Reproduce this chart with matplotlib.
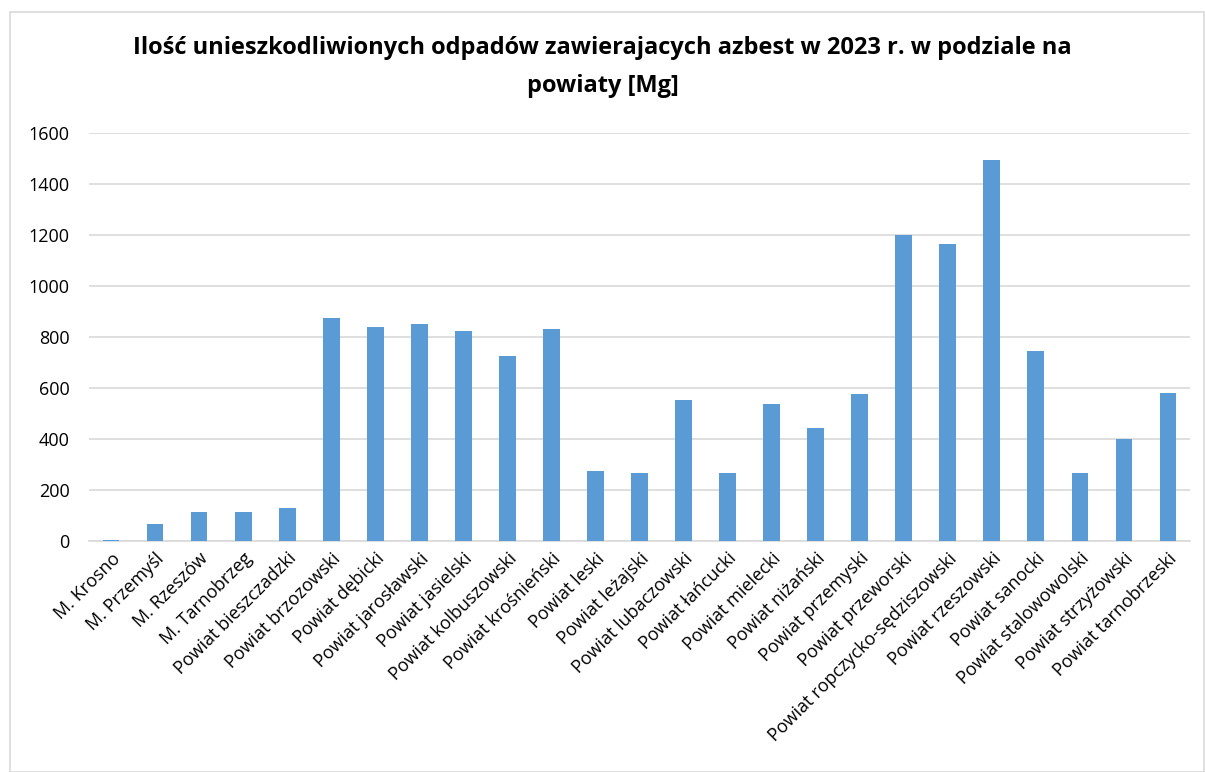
import matplotlib
matplotlib.use("Agg")
import matplotlib.pyplot as plt
from matplotlib.patches import Rectangle

plt.rcParams['font.family'] = ['Open Sans', 'DejaVu Sans']

labels = ['M. Krosno', 'M. Przemyśl', 'M. Rzeszów', 'M. Tarnobrzeg',
          'Powiat bieszczadzki', 'Powiat brzozowski', 'Powiat dębicki',
          'Powiat jarosławski', 'Powiat jasielski', 'Powiat kolbuszowski',
          'Powiat krośnieński', 'Powiat leski', 'Powiat leżajski',
          'Powiat lubaczowski', 'Powiat łańcucki', 'Powiat mielecki',
          'Powiat niżański', 'Powiat przemyski', 'Powiat przeworski',
          'Powiat ropczycko-sędziszowski', 'Powiat rzeszowski',
          'Powiat sanocki', 'Powiat stalowowolski', 'Powiat strzyżowski',
          'Powiat tarnobrzeski']
values = [5, 67, 114, 114, 129, 874, 839, 851, 823, 725,
          831, 274, 267, 553, 267, 537, 443, 576, 1200,
          1164, 1494, 745, 267, 400, 580]

fig = plt.figure(figsize=(12.05, 7.72), dpi=100)
# chart border
fig.patches.append(Rectangle((10/1205, 0.0), 1 - 10/1205 - 0.001, 1 - 12/772,
                             transform=fig.transFigure, fill=False,
                             edgecolor='#D9D9D9', lw=1.2))

ax = fig.add_axes([89/1205, 1 - 541/772, (1190 - 89)/1205, (541 - 133)/772])
x = range(len(values))
ax.bar(x, values, width=0.38, color='#5B9BD5', zorder=3)
ax.set_xlim(-0.5, len(values) - 0.5)
ax.set_ylim(0, 1600)
ax.set_yticks(range(0, 1601, 200))
ax.grid(axis='y', color='#D9D9D9', lw=1.2, zorder=0)
for s in ['top', 'right', 'left']:
    ax.spines[s].set_visible(False)
ax.spines['bottom'].set_color('#D9D9D9')
ax.spines['bottom'].set_linewidth(1.2)
ax.tick_params(axis='both', length=0, labelsize=13, colors='#000000')
ax.tick_params(axis='y', pad=14)
ax.tick_params(axis='x', pad=6)
ax.set_xticks(list(x))
ax.set_xticklabels(labels, rotation=45, ha='right', rotation_mode='anchor')

fig.text(0.5, 1 - 48/772, 'Ilość unieszkodliwionych odpadów zawierajacych azbest w 2023 r. w podziale na',
         ha='center', va='center', fontsize=17, fontweight='bold')
fig.text(0.5, 1 - 86/772, 'powiaty [Mg]', ha='center', va='center',
         fontsize=17, fontweight='bold')

fig.savefig('out.png', dpi=100)
